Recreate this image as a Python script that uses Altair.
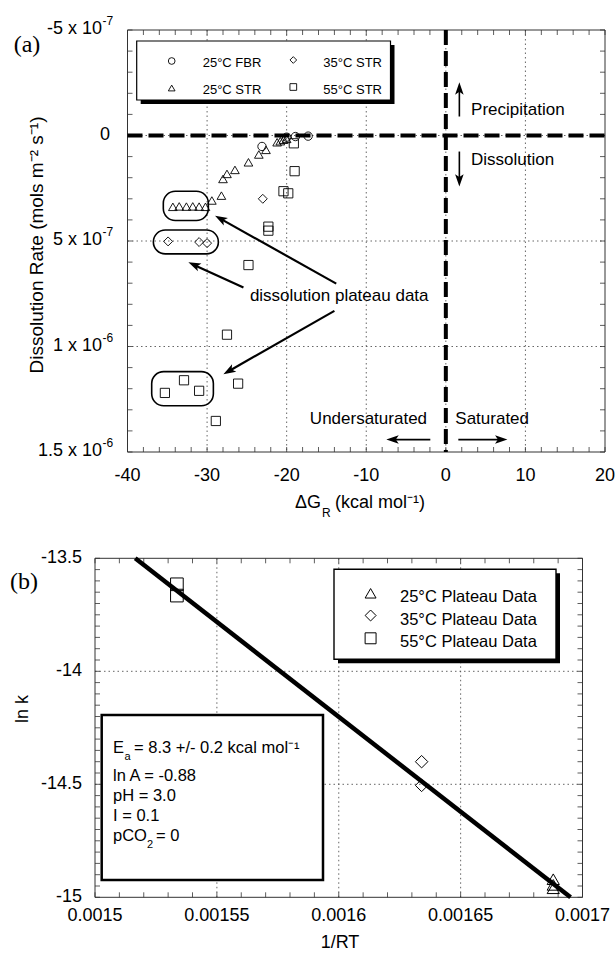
import math
import altair as alt
import pandas as pd

FONT = "Liberation Sans"
SERIF = "Liberation Serif"

# ---------------- panel (a) data ----------------
SER_A = ["25°C FBR", "25°C STR", "35°C STR", "55°C STR"]
fbr25_dg = [-23.1, -20.0, -18.9, -17.3]
fbr25_rate = [0.52e-7, 0.08e-7, 0.05e-7, 0.03e-7]
str25_dg = [-34.3, -33.5, -32.6, -31.8, -31.0, -30.2, -29.4, -28.2, -28.0, -27.5,
            -26.5, -24.8, -23.5, -22.6, -21.2, -20.8, -20.4, -20.0]
str25_rate = [3.38e-7, 3.36e-7, 3.37e-7, 3.36e-7, 3.37e-7, 3.38e-7, 3.08e-7, 2.85e-7,
              2.06e-7, 1.82e-7, 1.63e-7, 1.27e-7, 0.90e-7, 0.68e-7, 0.32e-7, 0.27e-7,
              0.20e-7, 0.16e-7]
str35_dg = [-34.9, -31.0, -30.0, -23.0]
str35_rate = [5.02e-7, 5.05e-7, 5.10e-7, 3.00e-7]
str55_dg = [-19.1, -19.0, -20.4, -19.8, -22.3, -22.3, -24.8, -27.5, -26.1, -32.9,
            -35.3, -31.0, -28.9]
str55_rate = [0.37e-7, 1.69e-7, 2.64e-7, 2.74e-7, 4.32e-7, 4.51e-7, 6.14e-7, 9.44e-7,
              11.76e-7, 11.60e-7, 12.20e-7, 12.10e-7, 13.53e-7]

# plateau groups (rounded boxes)
box_x1 = [-35.5, -36.75, -36.96]
box_x2 = [-29.84, -28.58, -29.21]
box_y1 = [2.64e-7, 4.48e-7, 11.19e-7]
box_y2 = [4.03e-7, 5.61e-7, 12.81e-7]

# annotation arrows (start -> tip)
arr_x0 = [-13.77, -25.43, -14.0, 1.7, 1.7, -1.95, 1.57]
arr_y0 = [7.02e-7, 7.2e-7, 8.31e-7, -0.90e-7, 0.76e-7, 14.41e-7, 14.41e-7]
arr_x1 = [-29.0, -32.35, -27.95, 1.7, 1.7, -7.48, 7.74]
arr_y1 = [3.80e-7, 6.01e-7, 11.31e-7, -2.52e-7, 2.42e-7, 14.41e-7, 14.41e-7]
arr_w = [2.2, 2.2, 2.2, 1.6, 1.6, 1.8, 1.8]

ann_text = ["Precipitation", "Dissolution", "dissolution plateau data", "Undersaturated", "Saturated"]
ann_x = [3.17, 3.17, -13.4, -2.36, 1.19]
ann_y = [-1.19e-7, 1.14e-7, 7.6e-7, 13.43e-7, 13.43e-7]
ann_align = ["left", "left", "center", "right", "left"]

xa_ticks = [-40, -30, -20, -10, 0, 10, 20]
xa_labels = ["-40", "-30", "-20", "-10", "0", "10", "20"]
ya_ticks = [-5e-7, 0.0, 5e-7, 1e-6, 1.5e-6]
ya_main = ["-5 x 10", "0", "5 x 10", "1 x 10", "1.5 x 10"]
ya_sup = ["-7", "", "-7", "-6", "-6"]
xa_grid = [-30, -20, -10, 0, 10]
ya_grid = [0.0, 5e-7, 1e-6]
xa_minor = [float(v) for v in range(-40, 21, 2)]
ya_minor = [i * 1e-7 for i in range(-5, 16)]

# ---------------- panel (b) data ----------------
SER_B = ["25°C Plateau Data", "35°C Plateau Data", "55°C Plateau Data"]
b25_invrt = [0.001688, 0.001688, 0.001688]
b25_lnk = [-14.92, -14.945, -14.96]
b35_invrt = [0.001634, 0.001634]
b35_lnk = [-14.40, -14.505]
b55_invrt = [0.0015336, 0.0015336]
b55_lnk = [-13.615, -13.665]
fit_invrt = [0.0015165, 0.0016951]
fit_lnk = [-13.5, -15.0]

xb_ticks = [0.0015, 0.00155, 0.0016, 0.00165, 0.0017]
xb_labels = ["0.0015", "0.00155", "0.0016", "0.00165", "0.0017"]
yb_ticks = [-15.0, -14.5, -14.0, -13.5]
yb_labels = ["-15", "-14.5", "-14", "-13.5"]
xb_grid = [0.00155, 0.0016, 0.00165]
yb_grid = [-14.0, -14.5]
xb_minor = [0.0015 + i * 0.00001 for i in range(0, 21)]
yb_minor = [-15.0 + i * 0.05 for i in range(0, 31)]

# ---------------- layout (pixel ranges of the two plot areas) ----------------
A_XD, A_XR = [-40, 20], [127.5, 605.0]
A_YD, A_YR = [-5e-7, 1.5e-6], [30.0, 452.0]
B_XD, B_XR = [0.0015, 0.0017], [95.0, 582.5]
B_YD, B_YR = [-15.0, -13.5], [897.3, 558.3]


def lin(v, d, r):
    return r[0] + (v - d[0]) / (d[1] - d[0]) * (r[1] - r[0])


def inv(p, d, r):
    return d[0] + (p - r[0]) / (r[1] - r[0]) * (d[1] - d[0])


def sc(d, r):
    return alt.Scale(domain=d, range=r, nice=False, zero=False)


def XA(f):
    return alt.X(f, type="quantitative", scale=sc(A_XD, A_XR), axis=None)


def YA(f):
    return alt.Y(f, type="quantitative", scale=sc(A_YD, A_YR), axis=None)


def XB(f):
    return alt.X(f, type="quantitative", scale=sc(B_XD, B_XR), axis=None)


def YB(f):
    return alt.Y(f, type="quantitative", scale=sc(B_YD, B_YR), axis=None)


DUMMY = pd.DataFrame({"k": [0]})
layers = []


def txt(s, x, y, size, align="left", baseline="alphabetic", font=FONT, angle=0, weight="normal"):
    kw = dict(text=s, fontSize=size, font=font, align=align, baseline=baseline, color="black",
              fontWeight=weight)
    if angle:
        kw["angle"] = angle
    return alt.Chart(DUMMY).mark_text(**kw).encode(x=alt.value(x), y=alt.value(y))


def box(x1, y1, x2, y2, sw=1.2, shadow=4):
    out = []
    if shadow:
        out.append(alt.Chart(DUMMY).mark_rect(color="black").encode(
            x=alt.value(x1 + shadow), x2=alt.value(x2 + shadow),
            y=alt.value(y1 + shadow), y2=alt.value(y2 + shadow)))
    out.append(alt.Chart(DUMMY).mark_rect(fill="white", stroke="black", strokeWidth=sw).encode(
        x=alt.value(x1), x2=alt.value(x2), y=alt.value(y1), y2=alt.value(y2)))
    return out


GRID = dict(color="#555", strokeWidth=0.9, strokeDash=[1.5, 3])
TICK = dict(color="#333", strokeWidth=0.8)

# ====================== PANEL (a) ======================
layers.append(alt.Chart(pd.DataFrame({"v": xa_grid, "lo": -5e-7, "hi": 1.5e-6}))
              .mark_rule(**GRID).encode(x=XA("v"), y=YA("lo"), y2="hi"))
layers.append(alt.Chart(pd.DataFrame({"v": ya_grid, "lo": -40, "hi": 20}))
              .mark_rule(**GRID).encode(y=YA("v"), x=XA("lo"), x2="hi"))
layers.append(alt.Chart(pd.DataFrame({"x1": [-40], "x2": [20], "y1": [-5e-7], "y2": [1.5e-6]}))
              .mark_rect(fillOpacity=0, stroke="#333", strokeWidth=1)
              .encode(x=XA("x1"), x2="x2", y=YA("y1"), y2="y2"))
dfx = pd.DataFrame({"v": xa_minor})
dfy = pd.DataFrame({"v": ya_minor})
layers.append(alt.Chart(dfx).mark_rule(**TICK).encode(x=XA("v"), y=alt.value(A_YR[1]), y2=alt.value(A_YR[1] - 5)))
layers.append(alt.Chart(dfx).mark_rule(**TICK).encode(x=XA("v"), y=alt.value(A_YR[0]), y2=alt.value(A_YR[0] + 5)))
layers.append(alt.Chart(dfy).mark_rule(**TICK).encode(y=YA("v"), x=alt.value(A_XR[0]), x2=alt.value(A_XR[0] + 5)))
layers.append(alt.Chart(dfy).mark_rule(**TICK).encode(y=YA("v"), x=alt.value(A_XR[1]), x2=alt.value(A_XR[1] - 5)))

layers.append(alt.Chart(pd.DataFrame({"y": [0.0], "lo": [-40], "hi": [20]}))
              .mark_rule(color="black", strokeWidth=4, strokeDash=[15, 6])
              .encode(y=YA("y"), x=XA("lo"), x2="hi"))
layers.append(alt.Chart(pd.DataFrame({"x": [0.0], "lo": [-5e-7], "hi": [1.5e-6]}))
              .mark_rule(color="black", strokeWidth=4, strokeDash=[15, 6])
              .encode(x=XA("x"), y=YA("lo"), y2="hi"))

layers += box(136.7, 41.0, 390.5, 100.0, sw=1.2, shadow=4)

layers.append(alt.Chart(pd.DataFrame({"x1": box_x1, "x2": box_x2, "y1": box_y1, "y2": box_y2}))
              .mark_rect(cornerRadius=12, fillOpacity=0, stroke="black", strokeWidth=1.6)
              .encode(x=XA("x1"), x2="x2", y=YA("y1"), y2="y2"))

pts_a = pd.DataFrame({
    "dg": fbr25_dg + str25_dg + str35_dg + str55_dg,
    "rate": fbr25_rate + str25_rate + str35_rate + str55_rate,
    "series": [SER_A[0]] * len(fbr25_dg) + [SER_A[1]] * len(str25_dg)
    + [SER_A[2]] * len(str35_dg) + [SER_A[3]] * len(str55_dg),
})
layers.append(alt.Chart(pts_a).mark_point(filled=False, color="black", strokeWidth=0.9, opacity=1)
              .encode(x=XA("dg"), y=YA("rate"),
                      shape=alt.Shape("series:N", scale=alt.Scale(
                          domain=SER_A, range=["circle", "triangle-up", "diamond", "square"]), legend=None),
                      size=alt.Size("series:N", scale=alt.Scale(domain=SER_A, range=[70, 85, 75, 85]),
                                    legend=None)))

ARROW = "M0,0 L0.62,1.8 L0,1.38 L-0.62,1.8 Z"
rows = []
for x0, y0, x1, y1, w in zip(arr_x0, arr_y0, arr_x1, arr_y1, arr_w):
    p0x, p0y = lin(x0, A_XD, A_XR), lin(y0, A_YD, A_YR)
    p1x, p1y = lin(x1, A_XD, A_XR), lin(y1, A_YD, A_YR)
    dx, dy = p1x - p0x, p1y - p0y
    L = math.hypot(dx, dy)
    ex, ey = p1x - dx / L * 8, p1y - dy / L * 8
    rows.append({"x0": x0, "y0": y0, "xs": inv(ex, A_XD, A_XR), "ys": inv(ey, A_YD, A_YR),
                 "xt": x1, "yt": y1, "w": w,
                 "ang": math.degrees(math.atan2(dx, -dy)) % 360})
arr_df = pd.DataFrame(rows)
layers.append(alt.Chart(arr_df).mark_rule(color="black")
              .encode(x=XA("x0"), y=YA("y0"), x2="xs", y2="ys",
                      strokeWidth=alt.StrokeWidth("w:Q", scale=None)))
layers.append(alt.Chart(arr_df).mark_point(shape=ARROW, filled=True, color="black", opacity=1, size=190,
                                           strokeWidth=0)
              .encode(x=XA("xt"), y=YA("yt"), angle=alt.Angle("ang:Q", scale=None)))

for t, x, y, a in zip(ann_text, ann_x, ann_y, ann_align):
    layers.append(alt.Chart(pd.DataFrame({"x": [x], "y": [y], "t": [t]}))
                  .mark_text(font=FONT, fontSize=17, align=a, baseline="middle", color="black")
                  .encode(x=XA("x"), y=YA("y"), text="t:N"))

layers.append(alt.Chart(pd.DataFrame({"v": xa_ticks, "t": xa_labels}))
              .mark_text(font=FONT, fontSize=18, align="center", baseline="middle", color="black")
              .encode(x=XA("v"), y=alt.value(476), text="t:N"))
yl = pd.DataFrame({"v": ya_ticks, "t": ya_main, "sup": ya_sup})
layers.append(alt.Chart(yl).transform_calculate(px="datum.sup == '' ? 110 : 102")
              .mark_text(font=FONT, fontSize=18, align="right", baseline="middle", color="black", dy=-1)
              .encode(y=YA("v"), x=alt.X("px:Q", scale=None, axis=None), text="t:N"))
layers.append(alt.Chart(yl).transform_filter("datum.sup != ''")
              .mark_text(font=FONT, fontSize=12, align="left", baseline="middle", color="black", dy=-9)
              .encode(y=YA("v"), x=alt.value(102.5), text="sup:N"))

layers.append(txt("ΔG", 321, 508, 18, align="right"))
layers.append(txt("R", 322, 517, 12))
layers.append(txt("(kcal mol⁻¹)", 335, 508, 18))
layers.append(txt("Dissolution Rate (mols m⁻² s⁻¹)", 37, 245, 19, align="center", baseline="middle", angle=270))
layers.append(txt("(a)", 27, 45, 24, align="center", baseline="middle", font=SERIF))

leg_a = [(SER_A[0], "circle", 171.7, 61.0, 202.7, 63.0),
         (SER_A[1], "triangle-up", 171.7, 88.0, 202.7, 89.5),
         (SER_A[2], "diamond", 293.3, 60.0, 323.3, 63.0),
         (SER_A[3], "square", 293.3, 87.0, 323.3, 89.5)]
for lab, shp, sx, sy, tx, ty in leg_a:
    layers.append(alt.Chart(DUMMY).mark_point(shape=shp, filled=False, color="black", opacity=1,
                                              size=45, strokeWidth=0.9)
                  .encode(x=alt.value(sx), y=alt.value(sy)))
    layers.append(txt(lab, tx, ty, 13, baseline="middle"))

# ====================== PANEL (b) ======================
layers.append(alt.Chart(pd.DataFrame({"v": xb_grid, "lo": -15.0, "hi": -13.5}))
              .mark_rule(**GRID).encode(x=XB("v"), y=YB("lo"), y2="hi"))
layers.append(alt.Chart(pd.DataFrame({"v": yb_grid, "lo": 0.0015, "hi": 0.0017}))
              .mark_rule(**GRID).encode(y=YB("v"), x=XB("lo"), x2="hi"))
layers.append(alt.Chart(pd.DataFrame({"x1": [0.0015], "x2": [0.0017], "y1": [-15.0], "y2": [-13.5]}))
              .mark_rect(fillOpacity=0, stroke="#333", strokeWidth=1)
              .encode(x=XB("x1"), x2="x2", y=YB("y1"), y2="y2"))
dfxb = pd.DataFrame({"v": xb_minor})
dfyb = pd.DataFrame({"v": yb_minor})
layers.append(alt.Chart(dfxb).mark_rule(**TICK).encode(x=XB("v"), y=alt.value(B_YR[0]), y2=alt.value(B_YR[0] - 5)))
layers.append(alt.Chart(dfxb).mark_rule(**TICK).encode(x=XB("v"), y=alt.value(B_YR[1]), y2=alt.value(B_YR[1] + 5)))
layers.append(alt.Chart(dfyb).mark_rule(**TICK).encode(y=YB("v"), x=alt.value(B_XR[0]), x2=alt.value(B_XR[0] + 5)))
layers.append(alt.Chart(dfyb).mark_rule(**TICK).encode(y=YB("v"), x=alt.value(B_XR[1]), x2=alt.value(B_XR[1] - 5)))

layers += box(101.7, 715.0, 323.0, 880.0, sw=2.5, shadow=0)
layers += box(334.0, 569.3, 556.0, 659.3, sw=1.4, shadow=4)

layers.append(alt.Chart(pd.DataFrame({"x": fit_invrt, "y": fit_lnk}))
              .mark_line(color="black", strokeWidth=4.5)
              .encode(x=XB("x"), y=YB("y")))

pts_b = pd.DataFrame({
    "x": b25_invrt + b35_invrt + b55_invrt,
    "y": b25_lnk + b35_lnk + b55_lnk,
    "series": [SER_B[0]] * len(b25_invrt) + [SER_B[1]] * len(b35_invrt) + [SER_B[2]] * len(b55_invrt),
})
layers.append(alt.Chart(pts_b).mark_point(filled=False, color="black", strokeWidth=1, opacity=1)
              .encode(x=XB("x"), y=YB("y"),
                      shape=alt.Shape("series:N", scale=alt.Scale(
                          domain=SER_B, range=["triangle-up", "diamond", "square"]), legend=None),
                      size=alt.Size("series:N", scale=alt.Scale(domain=SER_B, range=[150, 160, 128]),
                                    legend=None)))

layers.append(alt.Chart(pd.DataFrame({"v": xb_ticks, "t": xb_labels}))
              .mark_text(font=FONT, fontSize=18, align="center", baseline="middle", color="black")
              .encode(x=XB("v"), y=alt.value(916), text="t:N"))
layers.append(alt.Chart(pd.DataFrame({"v": yb_ticks, "t": yb_labels}))
              .mark_text(font=FONT, fontSize=18, align="right", baseline="middle", color="black")
              .encode(y=YB("v"), x=alt.value(82), text="t:N"))

layers.append(txt("1/RT", 340, 943, 18, align="center", baseline="middle"))
layers.append(txt("ln k", 22.5, 709, 18, align="center", baseline="middle", angle=270))
layers.append(txt("(b)", 24, 582, 24, align="center", baseline="middle", font=SERIF))

leg_b = [(SER_B[0], "triangle-up", 593.3, 597.0),
         (SER_B[1], "diamond", 615.5, 620.0),
         (SER_B[2], "square", 638.3, 642.0)]
for lab, shp, sy, ty in leg_b:
    layers.append(alt.Chart(DUMMY).mark_point(shape=shp, filled=False, color="black", opacity=1,
                                              size=120, strokeWidth=1)
                  .encode(x=alt.value(370.6), y=alt.value(sy)))
    layers.append(txt(lab, 400, ty, 16.5, baseline="middle"))

layers.append(txt("E", 113, 753, 16.5))
layers.append(txt("a", 124.5, 760, 11))
layers.append(txt("= 8.3 +/- 0.2 kcal mol⁻¹", 134, 753, 16.5))
layers.append(txt("ln A = -0.88", 113, 781, 16.5))
layers.append(txt("pH = 3.0", 113, 801, 16.5))
layers.append(txt("I = 0.1", 113, 821, 16.5))
layers.append(txt("pCO", 113, 841, 16.5))
layers.append(txt("2", 147, 848, 11))
layers.append(txt("= 0", 156, 841, 16.5))

chart = (alt.layer(*layers)
         .resolve_scale(x="independent", y="independent", shape="independent", size="independent")
         .properties(width=615, height=954, autosize=alt.AutoSizeParams(type="none"), padding=0,
                     background="white")
         .configure_view(stroke=None))

chart.save("out.html", embed_options={"renderer": "svg", "actions": False})
